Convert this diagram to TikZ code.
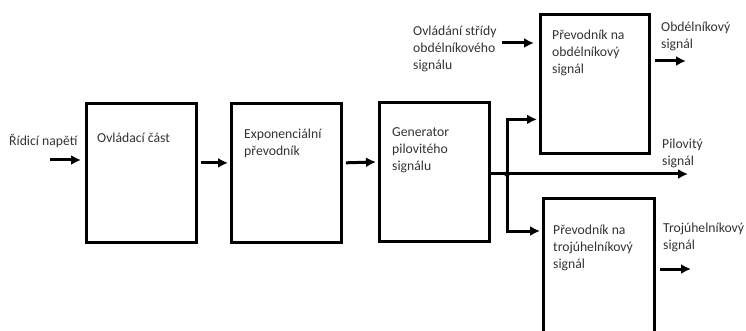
\documentclass[tikz,border=0pt]{standalone}
\usepackage{fontspec}
\setmainfont{Carlito}
\usetikzlibrary{arrows.meta}
\begin{document}
\begin{tikzpicture}[x=1pt,y=-1pt,
  box/.style={draw=black, line width=2.8pt, anchor=north west, inner sep=0pt},
  txt/.style={anchor=north west, inner sep=0pt, align=left, font=\fontsize{13.7}{17}\selectfont, text=black!80},
  arr/.style={line width=3pt, -{Latex[length=10pt,width=10pt]}}]
\useasboundingbox (0,0) rectangle (746,331);
\clip (0,0) rectangle (746,331);
% boxes
\node[box, minimum width=110pt, minimum height=139pt] (b1) at (85,102) {};
\node[box, minimum width=110pt, minimum height=139pt] (b2) at (230,102) {};
\node[box, minimum width=110pt, minimum height=139pt] (b3) at (378,101) {};
\node[box, minimum width=109pt, minimum height=139pt] (b4) at (539,13) {};
\node[box, minimum width=111pt, minimum height=160pt] (b5) at (542,197) {};
% box texts
\node[txt] (t1) at (97,133) {Ovládací část};
\node[txt] (t2) at (244,129) {Exponenciální\\převodník};
\node[txt] (t3) at (392,127) {Generator\\pilovitého\\signálu};
\node[txt] (t4) at (552,30) {Převodník na\\obdélníkový\\signál};
\node[txt] (t5) at (553,225) {Převodník na\\trojúhelníkový\\signál};
% outer labels
\node[txt] (lin) at (9,134) {Řídicí napětí};
\node[txt] (lduty) at (413,26) {Ovládání střídy\\obdélníkového\\signálu};
\node[txt] (lrect) at (661,22) {Obdélníkový\\signál};
\node[txt] (lsaw) at (662,139) {Pilovitý\\signál};
\node[txt] (ltri) at (663,223) {Trojúhelníkový\\signál};
% coordinates
\coordinate (inS) at (50,160);
\coordinate (dutyS) at (502,43);
\coordinate (rectS) at (655,61);
\coordinate (rectE) at (686,61);
\coordinate (triS) at (660,269);
\coordinate (triE) at (691,269);
\coordinate (j) at (507,174);
\coordinate (sawE) at (688,174);
% connectors
\draw[arr, shorten >=4pt] (inS) -- (inS -| b1.west);
\draw[arr, shorten <=3pt, shorten >=2pt] ([yshift=10pt]b1.east) -- ([yshift=10pt]b2.west);
\draw[arr, shorten <=3pt, shorten >=2pt] ([yshift=10pt]b2.east) -- ([yshift=10pt]b3.west);
\draw[arr, shorten >=5pt] (dutyS) -- (dutyS -| b4.west);
\draw[arr] (b3.east |- j) -- (sawE);
\draw[arr, shorten >=2pt] (j) |- ([yshift=-35.5pt]b4.west);
\draw[arr, shorten >=2pt] (j) |- (b5.west |- 0,231);
\draw[arr] (rectS) -- (rectE);
\draw[arr] (triS) -- (triE);
\fill (j) circle (2.8pt);
\end{tikzpicture}
\end{document}
